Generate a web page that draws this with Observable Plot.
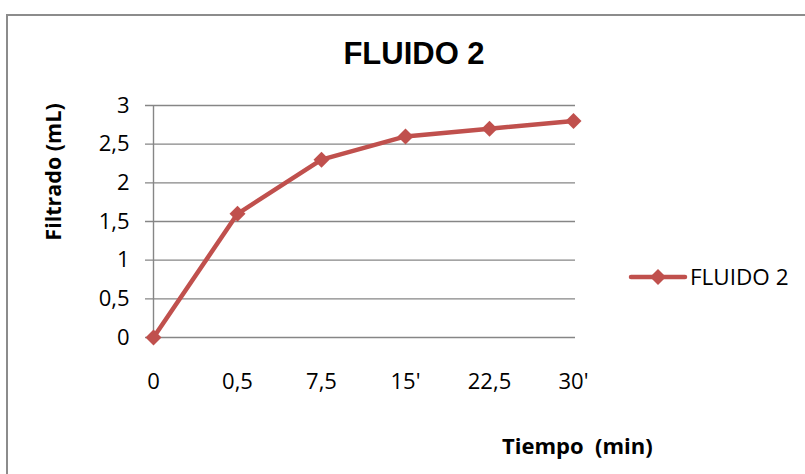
<!DOCTYPE html>
<html>
<head>
<meta charset="utf-8">
<script src="https://cdn.jsdelivr.net/npm/d3@7"></script>
<script src="https://cdn.jsdelivr.net/npm/@observablehq/plot@0.6"></script>
<style>
  body { margin: 0; background: #fff; }
  #chart { position: relative; width: 805px; height: 474px; overflow: hidden; font-family: "Open Sans", sans-serif; color: #000; }
  #chart > svg.plot-main { position: absolute; left: 0; top: 0; }
  #chart > svg.key { position: absolute; left: 628px; top: 265px; }
  #frame { position: absolute; left: 6px; top: 14px; width: 900px; height: 600px; border-left: 2px solid #8c8c8c; border-top: 2px solid #8c8c8c; }
  .title { position: absolute; left: 414px; top: 36px; transform: translateX(-50%); font: bold 31px "Liberation Sans", Arial, sans-serif; white-space: nowrap; }
  .ylabel { position: absolute; left: 53px; top: 172px; transform: translate(-50%, -50%) rotate(-90deg); font: bold 21.5px "Open Sans", sans-serif; line-height: 1; white-space: nowrap; }
  .xlabel { position: absolute; left: 502px; top: 434px; font: bold 22px "Open Sans", sans-serif; line-height: 1; white-space: pre; }
  .keytext { position: absolute; left: 690px; top: 266px; font: 22.5px "Open Sans", sans-serif; line-height: 1; white-space: nowrap; }
</style>
</head>
<body>
<div id="chart">
  <div id="frame"></div>
</div>
<script>
// Filtrate volume over time for fluid 2
const tiempo = ["0", "0,5", "7,5", "15'", "22,5", "30'"];
const filtrado = [0, 1.6, 2.3, 2.6, 2.7, 2.8];
const yTicks = [0, 0.5, 1, 1.5, 2, 2.5, 3];
const serie = "FLUIDO 2";

const data = tiempo.map((t, i) => ({tiempo: t, filtrado: filtrado[i]}));
const coma = d => String(d).replace(".", ",");
const rojo = "#C0504D";
const gris = "#868686";
const markerR = 7.2;

const chart = Plot.plot({
  width: 805,
  height: 474,
  marginLeft: 153,
  marginRight: 232,
  marginTop: 105,
  marginBottom: 137,
  x: {type: "point", domain: tiempo, padding: 0},
  y: {domain: [0, 3]},
  style: {fontFamily: "'Open Sans', sans-serif", fontSize: "22px", color: "#000", background: "transparent"},
  marks: [
    Plot.ruleY(yTicks, {stroke: gris, strokeWidth: 1.4, insetLeft: -8, insetRight: -2}),
    Plot.ruleX([tiempo[0]], {stroke: gris, strokeWidth: 1.4}),
    Plot.axisY({ticks: yTicks, tickSize: 0, tickPadding: 24, tickFormat: coma, label: null, fontSize: 22}),
    Plot.axisX({tickSize: 0, tickPadding: 36, label: null, fontSize: 22}),
    Plot.line(data, {x: "tiempo", y: "filtrado", stroke: rojo, strokeWidth: 4.5}),
    Plot.dot(data, {x: "tiempo", y: "filtrado", symbol: "diamond2", r: markerR, fill: rojo, stroke: "none"})
  ]
});
chart.classList.add("plot-main");

const root = document.getElementById("chart");
root.appendChild(chart);

const addDiv = (cls, text) => {
  const el = document.createElement("div");
  el.className = cls;
  el.textContent = text;
  root.appendChild(el);
  return el;
};
addDiv("title", serie);
addDiv("ylabel", "Filtrado (mL)");
addDiv("xlabel", "Tiempo  (min)");

// legend entry: line with diamond marker and series name
const key = d3.create("svg").attr("class", "key").attr("width", 60).attr("height", 24);
key.append("line").attr("x1", 3).attr("x2", 57).attr("y1", 12).attr("y2", 12)
  .attr("stroke", rojo).attr("stroke-width", 4.5).attr("stroke-linecap", "round");
key.append("path").attr("d", d3.symbol(d3.symbolDiamond2, Math.PI * markerR * markerR)())
  .attr("transform", "translate(30,12)").attr("fill", rojo);
root.appendChild(key.node());
addDiv("keytext", serie);
</script>
</body>
</html>
